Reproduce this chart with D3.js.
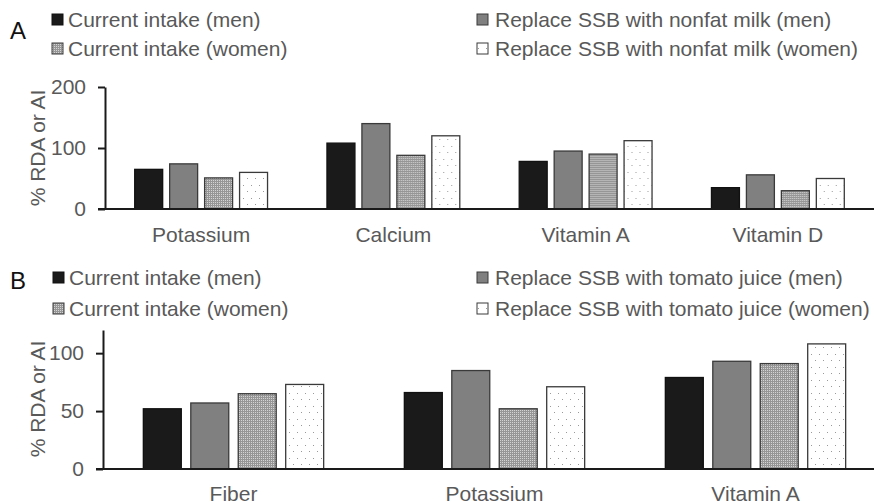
<!DOCTYPE html>
<html>
<head>
<meta charset="utf-8">
<script src="https://cdn.jsdelivr.net/npm/d3@7"></script>
<style>
  body { margin: 0; background: #fff; }
  svg { display: block; font-family: "Liberation Sans", Arial, sans-serif; }
  .tick text { fill: #595959; font-size: 21px; }
</style>
</head>
<body>
<svg width="874" height="502"></svg>
<script>
// ---- data ----
const seriesA = ["Current intake (men)", "Replace SSB with nonfat milk (men)", "Current intake (women)", "Replace SSB with nonfat milk (women)"]
const nutrientsA = ["Potassium", "Calcium", "Vitamin A", "Vitamin D"]
const menNowA = [65, 108, 78, 35]
const menMilkA = [74, 140, 95, 56]
const womenNowA = [51, 88, 90, 30]
const womenMilkA = [60, 120, 112, 50]
const ticksA = [0, 100, 200]

const seriesB = ["Current intake (men)", "Replace SSB with tomato juice (men)", "Current intake (women)", "Replace SSB with tomato juice (women)"]
const nutrientsB = ["Fiber", "Potassium", "Vitamin A"]
const menNowB = [52, 66, 79]
const menJuiceB = [57, 85, 93]
const womenNowB = [65, 52, 91]
const womenJuiceB = [73, 71, 108]
const ticksB = [0, 50, 100]

// bar order inside a group: men now, men replace, women now, women replace
const barKeys = ["k0", "k1", "k2", "k3"]
const fills = ["#1a1a1a", "#808080", "url(#dense)", "url(#dots)"]
const strokes = ["#111", "#3a3a3a", "#3a3a3a", "#3a3a3a"]

var svg = d3.select("svg")

// patterns
var defs = svg.append("defs")
var dense = defs.append("pattern").attr("id", "dense").attr("patternUnits", "userSpaceOnUse")
    .attr("width", 2).attr("height", 2)
dense.append("rect").attr("width", 2).attr("height", 2).attr("fill", "#969696")
dense.append("rect").attr("width", 1).attr("height", 1).attr("fill", "#d4d4d4")
var dots = defs.append("pattern").attr("id", "dots").attr("patternUnits", "userSpaceOnUse")
    .attr("width", 8).attr("height", 13)
dots.append("rect").attr("width", 8).attr("height", 13).attr("fill", "#fff")
dots.append("rect").attr("x", 2).attr("y", 3).attr("width", 1).attr("height", 1).attr("fill", "#9a9a9a")
dots.append("rect").attr("x", 6).attr("y", 9).attr("width", 1).attr("height", 1).attr("fill", "#9a9a9a")

function drawPanel(cfg) {
    const rows = cfg.cats.map((c, i) => ({ cat: c, k0: cfg.vals[0][i], k1: cfg.vals[1][i], k2: cfg.vals[2][i], k3: cfg.vals[3][i] }))

    const x = d3.scaleBand().domain(cfg.cats).range([cfg.x0, cfg.x1]).padding(0)
    const inner = d3.scaleBand().domain(barKeys).range([0, x.bandwidth()]).paddingInner(0.2).paddingOuter(0.85)
    const y = d3.scaleLinear().domain([0, cfg.ymax]).range([cfg.yBase, cfg.yTop])

    const g = svg.append("g")

    // bars
    g.selectAll(".grp").data(rows).join("g")
        .attr("transform", d => `translate(${x(d.cat)},0)`)
        .selectAll("rect")
        .data(d => barKeys.map((k, i) => ({ key: k, i: i, v: d[k] })))
        .join("rect")
        .attr("x", d => inner(d.key))
        .attr("width", inner.bandwidth())
        .attr("y", d => y(d.v))
        .attr("height", d => y(0) - y(d.v))
        .attr("fill", d => fills[d.i])
        .attr("stroke", d => strokes[d.i])
        .attr("stroke-width", 1.3)

    // y axis
    const yAxis = g.append("g").attr("transform", `translate(${cfg.x0},0)`)
        .call(d3.axisLeft(y).tickValues(cfg.ticks).tickSize(7).tickSizeOuter(0).tickPadding(12))
    yAxis.selectAll("path, line").attr("stroke", "#1a1a1a").attr("stroke-width", 2)

    // x axis / baseline
    const xAxis = g.append("g").attr("transform", `translate(0,${cfg.yBase})`)
        .call(d3.axisBottom(x).tickSize(0).tickPadding(cfg.labelPad))
    xAxis.select(".domain").attr("d", `M${cfg.x0 - 7},0H874`).attr("stroke", "#1a1a1a").attr("stroke-width", 2)

    // axis title
    g.append("text")
        .attr("transform", `translate(45,${cfg.titleY}) rotate(-90)`)
        .attr("text-anchor", "middle")
        .attr("fill", "#595959")
        .style("font-size", "21px")
        .text("% RDA or AI")

    // panel letter
    g.append("text").attr("x", 10).attr("y", cfg.letterY)
        .attr("fill", "#111").style("font-size", "24px").text(cfg.letter)

    // legend: 2 columns x 2 rows
    const legPos = [
        { sx: cfg.legX, tx: cfg.legX + 16, row: 0 },
        { sx: 477, tx: 495, row: 0 },
        { sx: cfg.legX, tx: cfg.legX + 16, row: 1 },
        { sx: 477, tx: 495, row: 1 }
    ]
    const leg = g.selectAll(".leg").data(cfg.series).join("g")
    leg.append("rect")
        .attr("x", (d, i) => legPos[i].sx)
        .attr("y", (d, i) => cfg.legRows[legPos[i].row] - 13)
        .attr("width", 11).attr("height", 11)
        .attr("fill", (d, i) => fills[i])
        .attr("stroke", (d, i) => strokes[i])
        .attr("stroke-width", 1)
    leg.append("text")
        .attr("x", (d, i) => legPos[i].tx)
        .attr("y", (d, i) => cfg.legRows[legPos[i].row])
        .attr("fill", "#595959")
        .style("font-size", "21px")
        .text(d => d)
}

drawPanel({
    cats: nutrientsA, vals: [menNowA, menMilkA, womenNowA, womenMilkA], series: seriesA,
    x0: 105, x1: 874, ymax: 200, yBase: 209, yTop: 87, ticks: ticksA, labelPad: 18,
    titleY: 148, letter: "A", letterY: 39, legX: 52, legRows: [27, 56]
})

drawPanel({
    cats: nutrientsB, vals: [menNowB, menJuiceB, womenNowB, womenJuiceB], series: seriesB,
    x0: 103, x1: 886, ymax: 120, yBase: 469, yTop: 330, ticks: ticksB, labelPad: 17.5,
    titleY: 399, letter: "B", letterY: 289, legX: 53, legRows: [285, 316]
})
</script>
</body>
</html>
